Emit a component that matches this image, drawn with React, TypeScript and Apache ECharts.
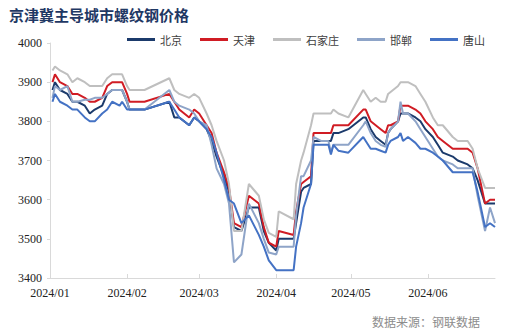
import React, { useEffect, useRef } from "react";
import * as echarts from "echarts";

const title = "京津冀主导城市螺纹钢价格";
const source = "数据来源：钢联数据";
const seriesNames = ["北京", "天津", "石家庄", "邯郸", "唐山"];
const colors = ["#1B3A6B", "#D01C24", "#BFBFBF", "#8EA4C8", "#4472C4"];

const dates = [
  "2024-01-02", "2024-01-03", "2024-01-05", "2024-01-08", "2024-01-10", "2024-01-12", "2024-01-15", "2024-01-17",
  "2024-01-19", "2024-01-22", "2024-01-24", "2024-01-26", "2024-01-29", "2024-01-30", "2024-02-01", "2024-02-02",
  "2024-02-08", "2024-02-18", "2024-02-20", "2024-02-22", "2024-02-26", "2024-02-28", "2024-03-01", "2024-03-04",
  "2024-03-06", "2024-03-08", "2024-03-11", "2024-03-13", "2024-03-15", "2024-03-18", "2024-03-21", "2024-03-25",
  "2024-03-27", "2024-03-29", "2024-04-01", "2024-04-02", "2024-04-08", "2024-04-09", "2024-04-11", "2024-04-12",
  "2024-04-15", "2024-04-16", "2024-04-19", "2024-04-22", "2024-04-23", "2024-04-24", "2024-04-26", "2024-04-30",
  "2024-05-06", "2024-05-07", "2024-05-09", "2024-05-11", "2024-05-13", "2024-05-15", "2024-05-16", "2024-05-17",
  "2024-05-20", "2024-05-21", "2024-05-22", "2024-05-24", "2024-05-27", "2024-05-29", "2024-05-31", "2024-06-03",
  "2024-06-05", "2024-06-07", "2024-06-11", "2024-06-13", "2024-06-17", "2024-06-19", "2024-06-21", "2024-06-24",
  "2024-06-26", "2024-06-28",
];

const beijing = [
  3880, 3900, 3880, 3870, 3850, 3850, 3840, 3820, 3830, 3840, 3870, 3880, 3880, 3880, 3850, 3830,
  3830, 3850, 3810, 3810, 3790, 3810, 3800, 3780, 3750, 3710, 3660, 3620, 3530, 3520, 3580, 3580,
  3520, 3490, 3470, 3500, 3500, 3540, 3620, 3630, 3640, 3750, 3750, 3750, 3750, 3770, 3770, 3780,
  3810, 3810, 3780, 3760, 3750, 3740, 3770, 3780, 3800, 3820, 3820, 3820, 3810, 3800, 3780, 3760,
  3740, 3720, 3710, 3700, 3690, 3680, 3650, 3590, 3590, 3590,
];
const tianjin = [
  3900, 3920, 3900, 3890, 3870, 3870, 3860, 3850, 3850, 3860, 3890, 3900, 3900, 3900, 3870, 3850,
  3850, 3870, 3850, 3830, 3810, 3830, 3820, 3790, 3770, 3720, 3670, 3630, 3540, 3530, 3610, 3590,
  3530, 3490, 3480, 3520, 3510, 3570, 3640, 3645, 3660, 3770, 3770, 3770, 3770, 3790, 3790, 3790,
  3830, 3830, 3800, 3790, 3780, 3770, 3790, 3790, 3800, 3840, 3840, 3840, 3830, 3820, 3800, 3780,
  3760, 3750, 3730, 3730, 3730, 3720, 3680, 3590, 3600, 3600,
];
const shijiazhuang = [
  3930, 3940, 3930, 3920, 3900, 3910, 3900, 3890, 3890, 3890, 3910, 3920, 3920, 3920, 3890, 3880,
  3880, 3910, 3880, 3870, 3860, 3870, 3860, 3820, 3790, 3750, 3700, 3640, 3520, 3520, 3640, 3610,
  3550, 3515, 3505, 3570, 3550, 3640, 3700, 3720, 3790, 3820, 3820, 3820, 3820, 3830, 3820, 3810,
  3880, 3870, 3850, 3860, 3850, 3850, 3870, 3875, 3890, 3900, 3900, 3900, 3890, 3870, 3850, 3810,
  3790, 3790, 3760, 3750, 3750, 3730, 3680, 3630, 3630, 3630,
];
const handan = [
  3860, 3890, 3880, 3890, 3850, 3850, 3855, 3855, 3860, 3860, 3870, 3880, 3880, 3880, 3850, 3830,
  3830, 3880, 3850, 3840, 3830, 3820, 3800, 3790, 3740, 3680, 3640, 3590, 3440, 3460, 3590, 3540,
  3500, 3465, 3460, 3480, 3480, 3560, 3660, 3660, 3700, 3760, 3750, 3750, 3720, 3740, 3740, 3740,
  3790, 3800, 3770, 3750, 3740, 3735, 3770, 3780, 3800, 3850, 3820, 3820, 3800, 3780, 3760, 3730,
  3710, 3700, 3690, 3680, 3680, 3680, 3610, 3520, 3580, 3540,
];
const tangshan = [
  3850, 3870, 3850, 3840, 3830, 3830, 3810, 3800, 3800, 3820, 3830, 3850, 3840, 3850, 3830, 3830,
  3830, 3850, 3830, 3810, 3790, 3810, 3800, 3780, 3760, 3720, 3650, 3600, 3590, 3540, 3560, 3510,
  3480, 3445, 3420, 3420, 3420, 3480, 3540, 3580, 3640, 3740, 3740, 3740, 3715, 3740, 3725, 3720,
  3760, 3750, 3730, 3730, 3725, 3720, 3740, 3750, 3760, 3770, 3750, 3760, 3745, 3730, 3730, 3720,
  3710, 3700, 3670, 3670, 3670, 3670, 3620, 3530, 3540, 3530,
];

const allValues = [beijing, tianjin, shijiazhuang, handan, tangshan];
const toTime = (s: string) => {
  const [y, m, d] = s.split("-").map(Number);
  return Date.UTC(y, m - 1, d);
};
const monthTicks = ["2024-01-01", "2024-02-01", "2024-03-01", "2024-04-01", "2024-05-01", "2024-06-01"].map(toTime);
const axisStart = toTime("2024-01-01");
const axisEnd = toTime("2024-06-28");

export default function App() {
  const ref = useRef<HTMLDivElement>(null);
  useEffect(() => {
    document.body.style.margin = "0";
    const chart = echarts.init(ref.current!, null, { renderer: "svg" });
    const fmt = (v: number) => {
      const d = new Date(v);
      return `${d.getUTCFullYear()}/${String(d.getUTCMonth() + 1).padStart(2, "0")}`;
    };
    chart.setOption({
      animation: false,
      backgroundColor: "#ffffff",
      title: {
        text: title,
        left: 4,
        top: 2,
        textStyle: { fontFamily: "Noto Sans CJK SC", fontWeight: "bold", fontSize: 15, color: "#1F3864" },
      },
      legend: {
        left: 122,
        top: 29,
        icon: "rect",
        itemWidth: 28,
        itemHeight: 3,
        itemGap: 18,
        textStyle: { fontFamily: "Noto Sans CJK SC", fontSize: 11, color: "#404040" },
        data: seriesNames,
      },
      graphic: [
        {
          type: "text",
          right: 30,
          top: 315,
          style: { text: source, fontFamily: "Noto Sans CJK SC", fontSize: 12, fill: "#8C8C8C" },
        },
      ],
      grid: { left: 50, right: 15, top: 43, bottom: 55, containLabel: false },
      xAxis: {
        type: "value",
        min: axisStart,
        max: axisEnd,
        axisLine: { show: true, lineStyle: { color: "#D9D9D9", width: 1 } },
        axisTick: { show: true, inside: true, length: 4, customValues: monthTicks, lineStyle: { color: "#D9D9D9" } },
        splitLine: { show: false },
        axisLabel: {
          customValues: monthTicks,
          formatter: fmt,
          fontFamily: "Liberation Serif",
          fontSize: 12,
          color: "#222",
          margin: 9,
        },
      },
      yAxis: {
        type: "value",
        min: 3400,
        max: 4000,
        interval: 100,
        axisLine: { show: true, lineStyle: { color: "#D9D9D9", width: 1 } },
        axisTick: { show: true, length: 3, lineStyle: { color: "#D9D9D9" } },
        splitLine: { show: false },
        axisLabel: {
          formatter: (v: number) => String(v),
          fontFamily: "Liberation Serif",
          fontSize: 12,
          color: "#222",
          margin: 8,
        },
      },
      series: seriesNames.map((name, i) => ({
        name,
        type: "line",
        showSymbol: false,
        symbol: "none",
        lineStyle: { width: 2, color: colors[i] },
        itemStyle: { color: colors[i] },
        data: dates.map((d, j) => [toTime(d), allValues[i][j]]),
      })),
    });
    return () => chart.dispose();
  }, []);
  return <div ref={ref} style={{ width: 510, height: 333, position: "absolute", left: 0, top: 0 }} />;
}
